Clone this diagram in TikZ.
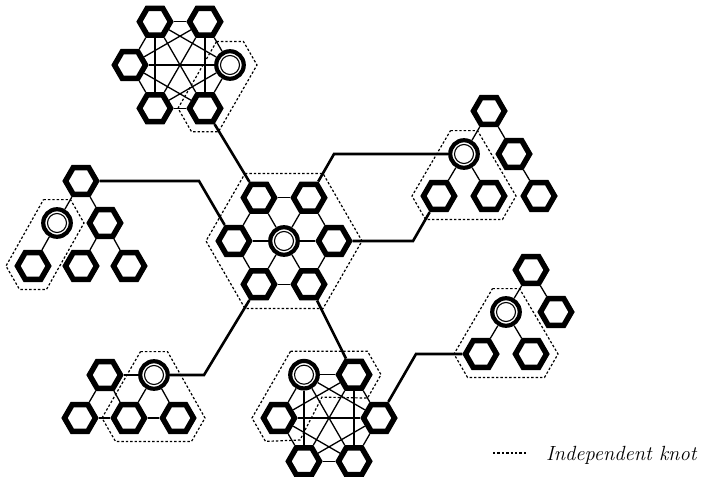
\documentclass[tikz,border=0pt]{standalone}
\usetikzlibrary{shapes.geometric,calc}
\pgfdeclarelayer{background}
\pgfsetlayers{background,main}
\begin{document}
\begin{tikzpicture}[x=1pt,y=-1pt,
  hexnode/.style={regular polygon, regular polygon sides=6, minimum size=31pt, inner sep=0pt, draw, line width=5.5pt, fill=white},
  dnode/.style={circle, minimum size=27.5pt, inner sep=0pt, draw, line width=4.2pt, fill=white,
    path picture={\draw[line width=1.1pt] (path picture bounding box.center) circle (9.5pt);}},
  thinline/.style={line width=1.3pt},
  linkline/.style={line width=2.6pt},
  hullline/.style={line width=1.2pt, dash pattern=on 2.4pt off 2pt},
]
\useasboundingbox (0,0) rectangle (703,476);
% top cluster
\node[dnode]   (tR)  at (230,65) {};
\node[hexnode] (tUR) at (205,21.7) {};
\node[hexnode] (tUL) at (155,21.7) {};
\node[hexnode] (tL)  at (130,65) {};
\node[hexnode] (tLL) at (155,108.3) {};
\node[hexnode] (tLR) at (205,108.3) {};
% centre cluster
\node[dnode]   (cC)  at (284,241) {};
\node[hexnode] (cUL) at (259,197.7) {};
\node[hexnode] (cUR) at (309,197.7) {};
\node[hexnode] (cL)  at (234,241) {};
\node[hexnode] (cR)  at (334,241) {};
\node[hexnode] (cLL) at (259,284.3) {};
\node[hexnode] (cLR) at (309,284.3) {};
% right top cluster
\node[hexnode] (rT)  at (489,111) {};
\node[dnode]   (rD)  at (464,154) {};
\node[hexnode] (rM)  at (514,154) {};
\node[hexnode] (rB1) at (439,196) {};
\node[hexnode] (rB2) at (489,196) {};
\node[hexnode] (rB3) at (539,196) {};
% left cluster
\node[hexnode] (lT)  at (81,181) {};
\node[dnode]   (lD)  at (57,223) {};
\node[hexnode] (lM)  at (105,223) {};
\node[hexnode] (lB1) at (33,266) {};
\node[hexnode] (lB2) at (81,266) {};
\node[hexnode] (lB3) at (129,266) {};
% bottom left cluster
\node[hexnode] (bT)  at (105,375) {};
\node[dnode]   (bD)  at (154,375) {};
\node[hexnode] (bB1) at (80,418) {};
\node[hexnode] (bB2) at (129,418) {};
\node[hexnode] (bB3) at (178,418) {};
% bottom middle cluster
\node[dnode]   (mD)  at (304,374.7) {};
\node[hexnode] (mUR) at (354,374.7) {};
\node[hexnode] (mL)  at (279,418) {};
\node[hexnode] (mR)  at (379,418) {};
\node[hexnode] (mLL) at (304,461.3) {};
\node[hexnode] (mLR) at (354,461.3) {};
% bottom right cluster
\node[hexnode] (sT)  at (531,270) {};
\node[dnode]   (sD)  at (506,312) {};
\node[hexnode] (sM)  at (556,312) {};
\node[hexnode] (sB1) at (481,354) {};
\node[hexnode] (sB2) at (531,354) {};
% corner coordinates
\coordinate (k1) at (199,181);
\coordinate (k2) at (334,154);
\coordinate (k3) at (413,241);
\coordinate (k4) at (204,375);
\coordinate (k5) at (416,354);
% legend
\coordinate (lg1) at (493,453);
\coordinate (lg2) at (527,453);
\node[anchor=base west, inner sep=0pt, font=\fontsize{20.5}{24}\selectfont\itshape] (lgt) at (546,460) {Independent knot};

\begin{pgfonlayer}{background}
% hulls
\draw[hullline] ($(tR)+(-13.5,-23.4)$) -- ($(tR)+(13.5,-23.4)$) -- ($(tR)+(27,0)$)
  -- ($(tLR)+(13.5,23.4)$) -- ($(tLR)+(-13.5,23.4)$) -- ($(tLR)+(-27,0)$) -- cycle;
\draw[hullline] ($(cC)+(-39,-67.5)$) -- ($(cC)+(39,-67.5)$) -- ($(cC)+(78,0)$)
  -- ($(cC)+(39,67.5)$) -- ($(cC)+(-39,67.5)$) -- ($(cC)+(-78,0)$) -- cycle;
\draw[hullline] ($(lD)+(-13.5,-23.4)$) -- ($(lD)+(13.5,-23.4)$) -- ($(lD)+(27,0)$)
  -- ($(lB1)+(13.5,23.4)$) -- ($(lB1)+(-13.5,23.4)$) -- ($(lB1)+(-27,0)$) -- cycle;
\draw[hullline] ($(rD)+(-13.5,-23.4)$) -- ($(rD)+(13.5,-23.4)$) -- ($(rB2)+(27,0)$)
  -- ($(rB2)+(13.5,23.4)$) -- ($(rB1)+(-13.5,23.4)$) -- ($(rB1)+(-27,0)$) -- cycle;
\draw[hullline] ($(sD)+(-13.5,-23.4)$) -- ($(sD)+(13.5,-23.4)$) -- ($(sB2)+(27,0)$)
  -- ($(sB2)+(13.5,23.4)$) -- ($(sB1)+(-13.5,23.4)$) -- ($(sB1)+(-27,0)$) -- cycle;
\draw[hullline] ($(bD)+(-13.5,-23.4)$) -- ($(bD)+(13.5,-23.4)$) -- ($(bB3)+(27,0)$)
  -- ($(bB3)+(13.5,23.4)$) -- ($(bB2)+(-13.5,23.4)$) -- ($(bB2)+(-27,0)$) -- cycle;
\draw[hullline] ($(mD)+(-13.5,-23.4)$) -- ($(mUR)+(13.5,-23.4)$) -- ($(mUR)+(27,0)$)
  -- ($(mUR)+(13.5,23.4)$) -- ($(mD)+(18,22.4)$) -- ($(mL)+(21,22)$)
  -- ($(mL)+(-13.5,23.4)$) -- ($(mL)+(-27,0)$) -- cycle;
\draw[hullline] (lg1) -- (lg2);
% top K6
\foreach \a/\b in {tR/tUR,tR/tUL,tR/tL,tR/tLL,tR/tLR,tUR/tUL,tUR/tL,tUR/tLL,tUR/tLR,
  tUL/tL,tUL/tLL,tUL/tLR,tL/tLL,tL/tLR,tLL/tLR}
  \draw[thinline] (\a) -- (\b);
% bottom middle K6
\foreach \a/\b in {mR/mUR,mR/mD,mR/mL,mR/mLL,mR/mLR,mUR/mD,mUR/mL,mUR/mLL,mUR/mLR,
  mD/mL,mD/mLL,mD/mLR,mL/mLL,mL/mLR,mLL/mLR}
  \draw[thinline] (\a) -- (\b);
% centre wheel
\foreach \a/\b in {cC/cUL,cC/cUR,cC/cL,cC/cR,cC/cLL,cC/cLR,cUL/cUR,cUR/cR,cR/cLR,cLR/cLL,cLL/cL,cL/cUL}
  \draw[thinline] (\a) -- (\b);
% trees
\foreach \a/\b in {rT/rD,rT/rM,rD/rB1,rD/rB2,rM/rB3,
  lT/lD,lT/lM,lD/lB1,lM/lB2,lM/lB3,
  sT/sD,sT/sM,sD/sB1,sD/sB2,
  bT/bD,bT/bB1,bT/bB2,bD/bB2,bD/bB3,bB1/bB2,bB2/bB3}
  \draw[thinline] (\a) -- (\b);
% links
\draw[linkline] (tLR) -- (cUL);
\draw[linkline] (lT) -- (k1) -- (cL);
\draw[linkline] (cUR) -- (k2) -- (rD);
\draw[linkline] (cR) -- (k3) -- (rB1);
\draw[linkline] (cLL) -- (k4) -- (bD);
\draw[linkline] (cLR) -- (mUR);
\draw[linkline] (mR) -- (k5) -- (sB1);
\end{pgfonlayer}
\end{tikzpicture}
\end{document}
